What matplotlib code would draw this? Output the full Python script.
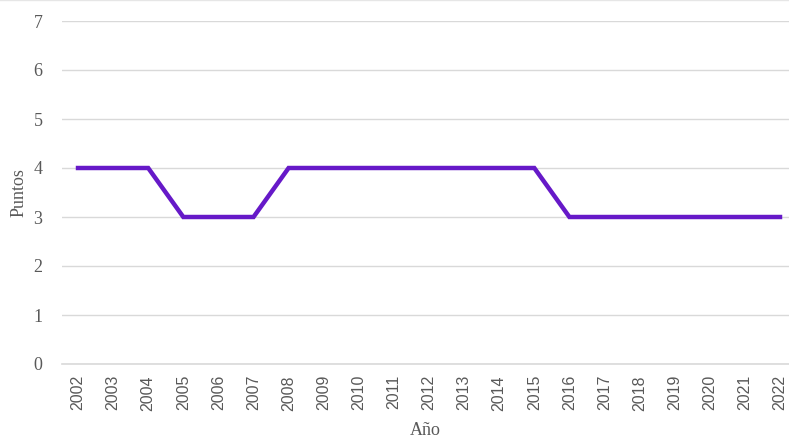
import numpy as np
import matplotlib.pyplot as plt

years = [str(y) for y in range(2002, 2023)]
puntos = [4, 4, 4, 3, 3, 3, 4, 4, 4, 4, 4, 4, 4, 4, 3, 3, 3, 3, 3, 3, 3]

fig = plt.figure(figsize=(7.89, 4.41), dpi=100)
ax = fig.add_axes([62/789, 77/441, 727/789, 343/441])

x = np.arange(len(years))
ax.plot(x, puntos, color='#6619C8', linewidth=3.2, solid_joinstyle='miter', zorder=3)

ax.set_ylim(0, 7)
ax.set_yticks(range(0, 8))
ax.set_xlim(-0.456, 20.256)
ax.set_xticks(x)
ax.set_xticklabels(years, rotation=90, family='Liberation Sans', fontsize=11.5, color='#595959')
for lbl in ax.get_yticklabels():
    lbl.set_family('Liberation Serif')
    lbl.set_fontsize(13)
    lbl.set_color('#595959')

ax.grid(axis='y', color='#d9d9d9', linewidth=1)
ax.axhline(0, color='#d9d9d9', linewidth=1.2, clip_on=False, zorder=1)
ax.set_axisbelow(True)
for s in ax.spines.values():
    s.set_visible(False)
ax.tick_params(length=0)
ax.tick_params(axis='y', pad=14)
ax.tick_params(axis='x', pad=8)

ax.set_ylabel('Puntos', family='Liberation Serif', fontsize=13, color='#595959', labelpad=4)
ax.set_xlabel('Año', family='Liberation Serif', fontsize=13, color='#595959', labelpad=8)

# thin frame line at top of chart area
fig.add_artist(plt.Line2D([0, 1], [0.999, 0.999], color='#e6e6e6', linewidth=1))

fig.savefig('out.png', dpi=100)
